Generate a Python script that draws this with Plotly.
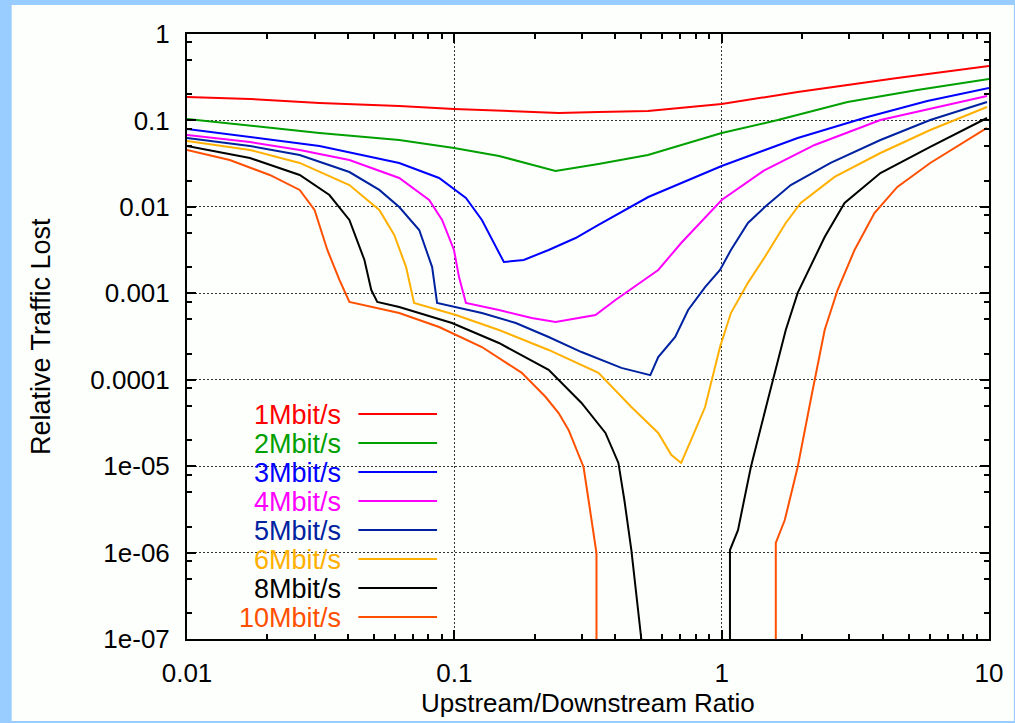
import plotly.graph_objects as go

# ---------------- data ----------------
series_names = ["1Mbit/s", "2Mbit/s", "3Mbit/s", "4Mbit/s", "5Mbit/s", "6Mbit/s", "8Mbit/s", "10Mbit/s"]
series_colors = ["#FF0000", "#00A000", "#0000FF", "#FF00FF", "#0022A0", "#FFB000", "#000000", "#FF5000"]

x_1m = [0.01, 0.0172, 0.0313, 0.0622, 0.0997, 0.147, 0.2455, 0.346, 0.53, 1.0, 1.925, 4.54, 10]
y_1m = [0.187, 0.177, 0.159, 0.147, 0.1356, 0.1285, 0.122, 0.125, 0.1285, 0.155, 0.213, 0.31, 0.426]

x_2m = [0.01, 0.0172, 0.0313, 0.0622, 0.0997, 0.147, 0.239, 0.346, 0.53, 1.0, 1.622, 2.957, 5.392, 10]
y_2m = [0.104, 0.0862, 0.0715, 0.0594, 0.048, 0.0388, 0.026, 0.0313, 0.0398, 0.0715, 0.1012, 0.1633, 0.225, 0.3015]

x_3m = [0.01, 0.0172, 0.0313, 0.0622, 0.0877, 0.1105, 0.1268, 0.1532, 0.1818, 0.2253, 0.2841, 0.3461,
        0.4363, 0.5315, 1.0, 1.925, 3.511, 5.875, 10]
y_3m = [0.0796, 0.0643, 0.0506, 0.0322, 0.0216, 0.0127, 0.00705, 0.0023, 0.00243, 0.00317, 0.00436, 0.00617,
        0.0092, 0.013, 0.0297, 0.0626, 0.1095, 0.1678, 0.2372]

x_4m = [0.01, 0.0172, 0.0264, 0.0405, 0.0622, 0.0805, 0.09, 0.0997, 0.1041, 0.1105, 0.1468, 0.1948, 0.2392,
        0.3373, 0.4005, 0.5791, 0.7055, 1.0, 1.45, 2.228, 3.925, 9.83]
y_4m = [0.0678, 0.0563, 0.0455, 0.0348, 0.0216, 0.012, 0.00705, 0.00317, 0.00154, 0.000772, 0.000641, 0.000518,
        0.000465, 0.000561, 0.000837, 0.00186, 0.00382, 0.012, 0.0267, 0.052, 0.1012, 0.1917]

x_5m = [0.01, 0.0172, 0.0264, 0.0405, 0.0524, 0.0622, 0.0739, 0.0826, 0.0862, 0.0997, 0.1268, 0.1698, 0.2253,
        0.2991, 0.4216, 0.5408, 0.5791, 0.6701, 0.7492, 0.8668, 0.9858, 1.083, 1.254, 1.45, 1.813, 2.556,
        3.925, 6.028, 9.83]
y_5m = [0.0626, 0.0506, 0.0398, 0.0253, 0.0157, 0.00996, 0.0054, 0.00201, 0.000772, 0.000694, 0.000591,
        0.000453, 0.000312, 0.000209, 0.000137, 0.000113, 0.000183, 0.000312, 0.000641, 0.00118, 0.00186,
        0.00317, 0.00651, 0.00996, 0.0179, 0.0322, 0.0594, 0.1012, 0.1633]

x_6m = [0.01, 0.0172, 0.0264, 0.0405, 0.0524, 0.0596, 0.066, 0.0707, 0.1014, 0.1468, 0.2253, 0.3461, 0.4594,
        0.5791, 0.6475, 0.7055, 0.7687, 0.8668, 0.9858, 1.083, 1.254, 1.45, 1.737, 1.976, 2.645, 3.925, 6.028, 9.83]
y_6m = [0.0578, 0.0455, 0.0322, 0.0179, 0.0092, 0.00473, 0.00201, 0.000772, 0.000561, 0.000376, 0.000221,
        0.00012, 4.83e-5, 2.42e-5, 1.35e-5, 1.09e-5, 2.01e-5, 4.83e-5, 0.000239, 0.000591, 0.00132, 0.00263,
        0.00651, 0.0111, 0.0222, 0.042, 0.0775, 0.143]

x_8m = [0.01, 0.0172, 0.0264, 0.0341, 0.0405, 0.0461, 0.0489, 0.0515, 0.0622, 0.098, 0.1468, 0.2253, 0.2991,
        0.3675, 0.4109, 0.4325, 0.4594, 0.4878, 0.5005, None,
        1.074, 1.074, 1.151, 1.286, 1.488, 1.737, 1.925, 2.428, 2.882, 3.925, 6.028, 9.83]
y_8m = [0.0506, 0.0367, 0.0234, 0.0137, 0.00705, 0.00243, 0.00109, 0.000793, 0.000694, 0.000453, 0.000266,
        0.00013, 5.38e-5, 2.42e-5, 1.09e-5, 4.06e-6, 1.07e-6, 1.8e-7, 1e-7, None,
        1e-7, 1.07e-6, 1.82e-6, 9.78e-6, 5.83e-5, 0.000376, 0.00101, 0.00448, 0.0111, 0.0246, 0.0493, 0.1067]

x_10m = [0.01, 0.01445, 0.0204, 0.0264, 0.03, 0.0335, 0.0372, 0.0405, 0.0622, 0.0877, 0.1268, 0.1788, 0.2196,
         0.2455, 0.2675, 0.3043, 0.3177, 0.3373, 0.3402, 0.3402, None,
         1.594, 1.594, 1.722, 1.925, 2.153, 2.428, 2.714, 3.141, 3.728, 4.541, 6.028, 9.83]
y_10m = [0.0455, 0.0348, 0.0234, 0.0157, 0.0092, 0.00317, 0.00142, 0.000793, 0.000591, 0.000407, 0.000239,
         0.00012, 6.31e-5, 4.12e-5, 2.62e-5, 9.78e-6, 4.06e-6, 1.16e-6, 9.89e-7, 1e-7, None,
         1e-7, 1.29e-6, 2.38e-6, 9.78e-6, 5.83e-5, 0.000376, 0.00109, 0.00317, 0.00849, 0.017, 0.0322, 0.0818]

series_x = [x_1m, x_2m, x_3m, x_4m, x_5m, x_6m, x_8m, x_10m]
series_y = [y_1m, y_2m, y_3m, y_4m, y_5m, y_6m, y_8m, y_10m]

x_tickvals = [0.01, 0.1, 1, 10]
x_ticktext = ["0.01", "0.1", "1", "10"]
y_tickvals = [1e-7, 1e-6, 1e-5, 1e-4, 1e-3, 1e-2, 1e-1, 1]
y_ticktext = ["1e-07", "1e-06", "1e-05", "0.0001", "0.001", "0.01", "0.1", "1"]
x_minor = [m * 10.0 ** e for e in (-2, -1, 0) for m in range(2, 10)]
y_minor = [m * 10.0 ** e for e in range(-7, 0) for m in (2, 5, 8)]

x_title = "Upstream/Downstream Ratio"
y_title = "Relative Traffic Lost"

# ---------------- figure ----------------
W, H = 1015, 723
ML, MR, MT, MB = 187, 23, 34, 84
PW, PH = W - ML - MR, H - MT - MB
FONT = "Liberation Sans, Arial, Helvetica, sans-serif"
BG = "#FDFFFD"


def px_x(p):
    return (p - ML) / PW


def px_y(p):
    return (H - MB - p) / PH


fig = go.Figure()
for name, color, xs, ys in zip(series_names, series_colors, series_x, series_y):
    fig.add_trace(go.Scatter(x=xs, y=ys, mode="lines", name=name,
                             line=dict(color=color, width=2), connectgaps=False,
                             showlegend=False, cliponaxis=True))

axis_common = dict(
    type="log", showline=True, linewidth=2, linecolor="black", mirror="allticks",
    ticks="inside", ticklen=9, tickwidth=1.5, tickcolor="black",
    showgrid=True, gridcolor="#333333", gridwidth=1, griddash="2px,2px",
    zeroline=False, tickfont=dict(family=FONT, size=26, color="black"),
    ticklabelstandoff=10,
)

fig.update_xaxes(range=[-2, 1], tickmode="array", tickvals=x_tickvals, ticktext=x_ticktext,
                 minor=dict(tickmode="array", tickvals=x_minor, ticks="inside", ticklen=5,
                            tickwidth=1.5, tickcolor="black", showgrid=False),
                 **axis_common)
fig.update_yaxes(range=[-7, 0], tickmode="array", tickvals=y_tickvals, ticktext=y_ticktext,
                 minor=dict(tickmode="array", tickvals=y_minor, ticks="inside", ticklen=5,
                            tickwidth=1.5, tickcolor="black", showgrid=False),
                 **axis_common)

shapes = [dict(type="rect", xref="paper", yref="paper", layer="below",
               x0=px_x(11), x1=px_x(W + 2), y0=px_y(721), y1=px_y(5),
               fillcolor=BG, line=dict(width=0))]
annotations = [
    dict(text=x_title, xref="paper", yref="paper", x=0.5, y=px_y(703), xanchor="center",
         yanchor="middle", showarrow=False, font=dict(family=FONT, size=26, color="black")),
    dict(text=y_title, xref="paper", yref="paper", x=px_x(40), y=0.5, xanchor="center",
         yanchor="middle", textangle=-90, showarrow=False, font=dict(family=FONT, size=27, color="black")),
]

# manual key (text right-aligned, sample line to the right), as in the original
key_top, key_step = 414, 29
for i, (name, color) in enumerate(zip(series_names, series_colors)):
    yk = key_top + i * key_step
    annotations.append(dict(text=name, xref="paper", yref="paper", x=px_x(344), y=px_y(yk + 1),
                            xanchor="right", yanchor="middle", showarrow=False,
                            font=dict(family=FONT, size=27, color=color)))
    shapes.append(dict(type="line", xref="paper", yref="paper", x0=px_x(359), x1=px_x(438),
                       y0=px_y(yk), y1=px_y(yk), line=dict(color=color, width=2)))

fig.update_layout(
    width=W, height=H, autosize=False,
    margin=dict(l=ML, r=MR, t=MT, b=MB, pad=0),
    paper_bgcolor="#99CCFF", plot_bgcolor=BG,
    showlegend=False, shapes=shapes, annotations=annotations,
    font=dict(family=FONT, color="black"),
)

fig.write_html("out.html")
